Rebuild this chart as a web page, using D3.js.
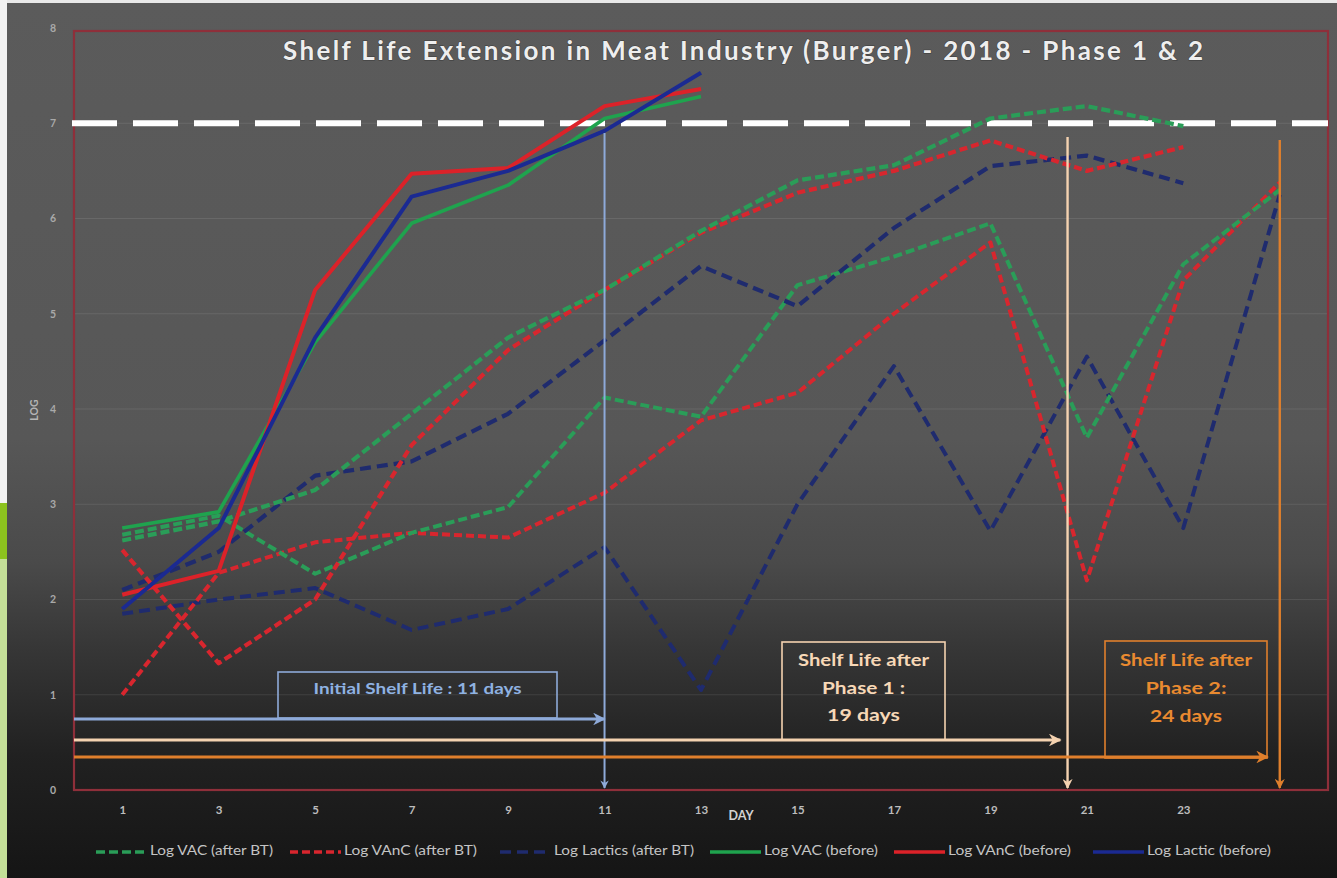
<!DOCTYPE html>
<html>
<head>
<meta charset="utf-8">
<script src="https://cdn.jsdelivr.net/npm/d3@7"></script>
<style>
  html, body { margin: 0; padding: 0; background: #5a5a5a; overflow: hidden; }
  text { font-family: Lato, "Open Sans", sans-serif; }
</style>
</head>
<body>
<svg id="chart" width="1337" height="878"></svg>
<script>
// ---------------- DATA ----------------
const days = [1, 3, 5, 7, 9, 11, 13, 15, 17, 19, 21, 23, 25];
const xTickLabels = ["1", "3", "5", "7", "9", "11", "13", "15", "17", "19", "21", "23"];
const yTickLabels = ["0", "1", "2", "3", "4", "5", "6", "7", "8"];

// after BT – phase 1 (upper dashed group)
const vacAfter1     = [2.62, 2.82, 3.15, 3.95, 4.75, 5.25, 5.87, 6.40, 6.56, 7.05, 7.18, 6.97, null];
const vancAfter1    = [2.52, 1.33, 2.00, 3.62, 4.62, 5.25, 5.85, 6.27, 6.50, 6.82, 6.50, 6.75, null];
const lacticsAfter1 = [2.10, 2.50, 3.30, 3.45, 3.95, 4.72, 5.50, 5.08, 5.90, 6.55, 6.66, 6.37, null];
// after BT – phase 2 (lower dashed group)
const vacAfter2     = [2.68, 2.88, 2.27, 2.70, 2.97, 4.12, 3.92, 5.30, 5.60, 5.95, 3.70, 5.52, 6.30];
const vancAfter2    = [1.00, 2.28, 2.60, 2.70, 2.65, 3.12, 3.88, 4.17, 5.00, 5.75, 2.20, 5.35, 6.38];
const lacticsAfter2 = [1.85, 2.00, 2.12, 1.68, 1.90, 2.55, 1.05, 3.00, 4.45, 2.72, 4.55, 2.75, 6.25];
// before
const vacBefore     = [2.75, 2.92, 4.70, 5.95, 6.35, 7.05, 7.28];
const vancBefore    = [2.05, 2.30, 5.25, 6.47, 6.53, 7.18, 7.36];
const lacticBefore  = [1.90, 2.75, 4.75, 6.23, 6.50, 6.92, 7.53];

const legendNames = ["Log VAC (after BT)", "Log VAnC (after BT)", "Log Lactics (after BT)",
                     "Log VAC (before)", "Log VAnC (before)", "Log Lactic (before)"];

const title = "Shelf Life Extension in Meat Industry (Burger) - 2018 - Phase 1 & 2";
const limitLog = 7;
const initialDay = 11, phase1Day = 20.6, phase2Day = 25;
const box1Lines = ["Initial Shelf Life : 11 days"];
const box2Lines = ["Shelf Life after", "Phase 1 :", "19 days"];
const box3Lines = ["Shelf Life after", "Phase 2:", "24 days"];

// ---------------- STYLE ----------------
const C = {
  green: "#1fa34e", greenD: "#2a9d58",
  red: "#dc2229", redD: "#d8262e",
  blue: "#1b2a92", blueD: "#1f2b6e",
  lblue: "#8eaad9", peach: "#f4d2b0", orange: "#df7f2c"
};

const svg = d3.select("#chart");
const W = 1337, H = 878;

const defs = svg.append("defs");
const bg = defs.append("linearGradient").attr("id", "bg").attr("x1", 0).attr("y1", 0).attr("x2", 0).attr("y2", 1);
[[0, "#5b5b5b"], [0.5, "#575757"], [0.64, "#4a4a4a"], [0.74, "#363636"], [0.86, "#212121"], [1, "#151515"]]
  .forEach(([o, c]) => bg.append("stop").attr("offset", o).attr("stop-color", c));

function marker(id, color) {
  defs.append("marker").attr("id", id).attr("viewBox", "0 0 10 10")
    .attr("refX", 9).attr("refY", 5).attr("markerWidth", 4.2).attr("markerHeight", 4.2)
    .attr("orient", "auto").attr("markerUnits", "strokeWidth")
    .append("path").attr("d", "M0,0 L10,5 L0,10 L3,5 Z").attr("fill", color);
}
marker("mBlue", C.lblue); marker("mPeach", C.peach); marker("mOrange", C.orange);

svg.append("rect").attr("width", W).attr("height", H).attr("fill", "url(#bg)");
// page edges
svg.append("rect").attr("x", 0).attr("y", 0).attr("width", W).attr("height", 3).attr("fill", "#e9e9e9");
svg.append("rect").attr("x", 0).attr("y", 0).attr("width", 7).attr("height", 503).attr("fill", "#f2f2f2");
svg.append("rect").attr("x", 0).attr("y", 503).attr("width", 7).attr("height", 56).attr("fill", "#8cc21e");
svg.append("rect").attr("x", 0).attr("y", 559).attr("width", 7).attr("height", H - 559).attr("fill", "#c4df98");

// ---------------- SCALES ----------------
const x = d3.scaleLinear().domain([0, 26]).range([74, 1328]);
const y = d3.scaleLinear().domain([0, 8]).range([790, 28]);

// grid
svg.append("g").selectAll("line").data(d3.range(1, 8)).join("line")
  .attr("x1", x(0)).attr("x2", x(26)).attr("y1", d => y(d)).attr("y2", d => y(d))
  .attr("stroke", "#ffffff").attr("stroke-opacity", 0.09).attr("stroke-width", 1.2);

// plot border
svg.append("rect").attr("x", x(0)).attr("y", y(8) + 3).attr("width", x(26) - x(0)).attr("height", y(0) - y(8) - 3)
  .attr("fill", "none").attr("stroke", "#8e2f3a").attr("stroke-width", 2.2);

// y axis labels
const yAxis = d3.axisLeft(y).tickValues(d3.range(0, 9)).tickFormat((d, i) => yTickLabels[i]).tickSize(0).tickPadding(0);
svg.append("g").attr("transform", "translate(56,0)").call(yAxis)
  .call(g => g.select(".domain").remove())
  .call(g => g.selectAll("text").attr("fill", "#a9a9a9").attr("font-size", 10.5).attr("font-weight", "bold")
     .attr("font-family", "Lato, sans-serif"));

// x axis labels
const xAxis = d3.axisBottom(x).tickValues(days.slice(0, 12)).tickFormat((d, i) => xTickLabels[i]).tickSize(0).tickPadding(0);
svg.append("g").attr("transform", "translate(0,806)").call(xAxis)
  .call(g => g.select(".domain").remove())
  .call(g => g.selectAll("text").attr("fill", "#bdbdbd").attr("font-size", 11.5).attr("font-weight", "bold")
     .attr("font-family", "Lato, sans-serif"));

svg.append("text").attr("x", 741).attr("y", 820).attr("text-anchor", "middle")
  .attr("fill", "#d2d2d2").attr("font-size", 12.5).attr("font-weight", "bold").text("DAY");
svg.append("text").attr("transform", "translate(38,410) rotate(-90)").attr("text-anchor", "middle")
  .attr("fill", "#b5b5b5").attr("font-size", 10.5).attr("font-weight", "bold").text("LOG");

// title
svg.append("text").attr("x", 743).attr("y", 60).attr("text-anchor", "middle")
  .attr("fill", "#eeeeee").attr("font-size", 26).attr("font-weight", "bold")
  .attr("textLength", 920).attr("lengthAdjust", "spacing")
  .style("paint-order", "stroke").attr("stroke", "#3a3a3a").attr("stroke-width", 1)
  .text(title);

// limit line at 7 log
svg.append("line").attr("x1", x(0) - 2).attr("x2", x(26)).attr("y1", y(limitLog)).attr("y2", y(limitLog))
  .attr("stroke", "#ffffff").attr("stroke-width", 6).attr("stroke-dasharray", "45,16");

// ---------------- SERIES ----------------
const line = d3.line().defined(d => d[1] != null).x(d => x(d[0])).y(d => y(d[1]));
const series = [
  { v: lacticsAfter2, c: C.blueD, dash: "11,6", w: 4 },
  { v: vancAfter2,    c: C.redD,  dash: "8,4",  w: 4 },
  { v: vacAfter2,     c: C.greenD, dash: "9,4", w: 4 },
  { v: lacticsAfter1, c: C.blueD, dash: "11,6", w: 4.2 },
  { v: vancAfter1,    c: C.redD,  dash: "8,4",  w: 4.2 },
  { v: vacAfter1,     c: C.greenD, dash: "9,4", w: 4.2 },
  { v: vacBefore,     c: C.green, dash: null, w: 3.6 },
  { v: vancBefore,    c: C.red,   dash: null, w: 4 },
  { v: lacticBefore,  c: C.blue,  dash: null, w: 4 }
];
svg.append("g").selectAll("path").data(series).join("path")
  .attr("d", s => line(s.v.map((v, i) => [days[i], v])))
  .attr("fill", "none").attr("stroke", s => s.c).attr("stroke-width", s => s.w)
  .attr("stroke-dasharray", s => s.dash).attr("stroke-linejoin", "round");

// ---------------- ANNOTATIONS ----------------
const ann = svg.append("g");
// vertical arrows
[[initialDay, 133, C.lblue, "mBlue", 2], [phase1Day, 137, C.peach, "mPeach", 2.4], [phase2Day, 140, C.orange, "mOrange", 2.4]]
  .forEach(([d, top, col, m, w]) => {
    ann.append("line").attr("x1", x(d)).attr("x2", x(d)).attr("y1", top).attr("y2", y(0) - 2)
      .attr("stroke", col).attr("stroke-width", w).attr("marker-end", `url(#${m})`);
  });
// horizontal arrows
[[719, initialDay, C.lblue, "mBlue"], [740, phase1Day - 0.15, C.peach, "mPeach"], [757, phase2Day - 0.25, C.orange, "mOrange"]]
  .forEach(([yy, d, col, m]) => {
    ann.append("line").attr("x1", x(0)).attr("x2", x(d)).attr("y1", yy).attr("y2", yy)
      .attr("stroke", col).attr("stroke-width", 3).attr("marker-end", `url(#${m})`);
  });

function box(x0, y0, x1, y1, col, lines, tcol, fs, ys, lens) {
  ann.append("rect").attr("x", x0).attr("y", y0).attr("width", x1 - x0).attr("height", y1 - y0)
    .attr("fill", "none").attr("stroke", col).attr("stroke-width", 1.6);
  lines.forEach((t, i) => {
    ann.append("text").attr("x", (x0 + x1) / 2).attr("y", ys[i]).attr("text-anchor", "middle")
      .attr("dominant-baseline", "middle").attr("fill", tcol).attr("font-size", fs).attr("font-weight", "bold")
      .attr("textLength", lens[i]).attr("lengthAdjust", "spacingAndGlyphs").text(t);
  });
}
box(278, 672, 557, 718, C.lblue, box1Lines, "#8fb2e2", 16, [690], [208]);
box(782, 642, 945, 740, C.peach, box2Lines, "#f7d8b7", 17, [662, 690, 717], [131, 83, 73]);
box(1105, 641, 1267, 758, C.orange, box3Lines, "#e98a30", 17, [662, 690, 718], [132, 81, 72]);

// ---------------- LEGEND ----------------
const legendItems = [
  { x0: 96,   c: C.greenD, dash: "9,4",  len: 123 },
  { x0: 290,  c: C.redD,   dash: "8,4",  len: 133 },
  { x0: 500,  c: C.blueD,  dash: "11,6", len: 140 },
  { x0: 710,  c: C.green,  dash: null,   len: 114 },
  { x0: 894,  c: C.red,    dash: null,   len: 123 },
  { x0: 1093, c: C.blue,   dash: null,   len: 124 }
];
const lg = svg.append("g");
legendItems.forEach((it, i) => {
  lg.append("line").attr("x1", it.x0).attr("x2", it.x0 + 51).attr("y1", 852).attr("y2", 852)
    .attr("stroke", it.c).attr("stroke-width", 3.5).attr("stroke-dasharray", it.dash);
  lg.append("text").attr("x", it.x0 + 54).attr("y", 852).attr("dominant-baseline", "middle")
    .attr("fill", "#c4c4c4").attr("font-size", 13.5)
    .attr("textLength", it.len).attr("lengthAdjust", "spacingAndGlyphs").text(legendNames[i]);
});
</script>
</body>
</html>
